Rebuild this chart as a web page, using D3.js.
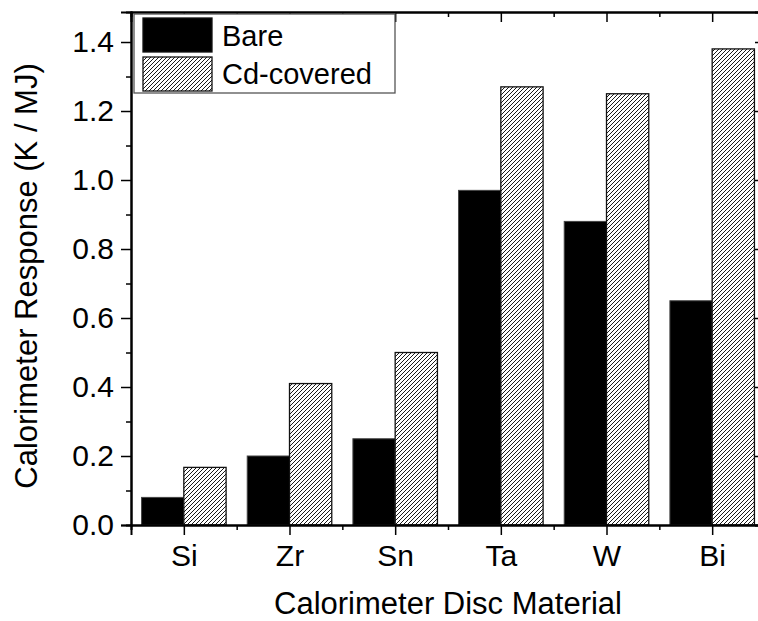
<!DOCTYPE html>
<html>
<head>
<meta charset="utf-8">
<script src="https://cdn.jsdelivr.net/npm/d3@7"></script>
<style>
  body { margin: 0; background: #fff; }
  svg { display: block; font-family: "Liberation Sans", Arial, sans-serif; }
</style>
</head>
<body>
<svg width="758" height="621"></svg>
<script>
const materials = ["Si", "Zr", "Sn", "Ta", "W", "Bi"];
const bareValues = [0.08, 0.20, 0.25, 0.97, 0.88, 0.65];
const cdValues = [0.167, 0.41, 0.50, 1.27, 1.25, 1.38];
const yTickValues = [0, 0.2, 0.4, 0.6, 0.8, 1.0, 1.2, 1.4];
const yMinorValues = [0.1, 0.3, 0.5, 0.7, 0.9, 1.1, 1.3];
const seriesNames = ["Bare", "Cd-covered"];

function drawChart()
{
  const svg = d3.select("svg");

  const xScale = d3.scaleLinear().domain([0.5, 6.5]).range([131, 765]);
  const yScale = d3.scaleLinear().domain([0, 1.487]).range([525, 12]);
  const barWidth = 0.4;

  // hatch for the Cd-covered series
  const defs = svg.append("defs");
  const pattern = defs
    .append("pattern")
    .attr("id", "hatch")
    .attr("patternUnits", "userSpaceOnUse")
    .attr("width", 4)
    .attr("height", 4);
  pattern.append("rect").attr("width", 4).attr("height", 4).attr("fill", "#fff");
  pattern
    .append("path")
    .attr("d", "M-1,1 L1,-1 M0,4 L4,0 M3,5 L5,3")
    .attr("stroke", "#000")
    .attr("stroke-width", 0.9);

  const xMajor = materials.map((m, i) => i + 1);
  const xMinor = materials.slice(0, -1).map((m, i) => i + 1.5);

  // right and top axes (inward ticks), drawn under bars
  const top = svg.append("g").attr("transform", `translate(0, ${ yScale.range()[1] })`);
  top.call(d3.axisTop(xScale).tickValues(xMajor).tickSize(-10).tickFormat(""));
  top.append("g").call(d3.axisTop(xScale).tickValues(xMinor).tickSize(-5).tickFormat(""));

  const right = svg.append("g").attr("transform", `translate(${ xScale.range()[1] }, 0)`);
  right.call(d3.axisRight(yScale).tickValues(yTickValues).tickSize(-10).tickFormat(""));
  right.append("g").call(d3.axisRight(yScale).tickValues(yMinorValues).tickSize(-5).tickFormat(""));

  // bars
  const bars = svg.append("g");
  bars
    .selectAll(".bare")
    .data(bareValues)
    .join("rect")
    .attr("x", (d, i) => xScale(i + 1 - barWidth))
    .attr("y", (d) => yScale(d))
    .attr("width", xScale(barWidth) - xScale(0))
    .attr("height", (d) => yScale(0) - yScale(d))
    .attr("fill", "#000")
    .attr("stroke", "#444")
    .attr("stroke-width", 1);

  bars
    .selectAll(".cd")
    .data(cdValues)
    .join("rect")
    .attr("x", (d, i) => xScale(i + 1))
    .attr("y", (d) => yScale(d))
    .attr("width", xScale(barWidth) - xScale(0))
    .attr("height", (d) => yScale(0) - yScale(d))
    .attr("fill", "url(#hatch)")
    .attr("stroke", "#111")
    .attr("stroke-width", 1.3);

  // bottom axis
  const bottom = svg.append("g").attr("transform", `translate(0, ${ yScale(0) })`);
  bottom.call(
    d3.axisBottom(xScale).tickValues(xMajor).tickSize(10).tickPadding(10)
      .tickFormat((d) => materials[d - 1])
  );
  bottom.append("g").call(d3.axisBottom(xScale).tickValues(xMinor).tickSize(5).tickFormat(""));

  // left axis
  const left = svg.append("g").attr("transform", `translate(${ xScale.range()[0] }, 0)`);
  left.call(
    d3.axisLeft(yScale).tickValues(yTickValues).tickSize(10).tickPadding(7)
      .tickFormat(d3.format(".1f"))
  );
  left.append("g").call(d3.axisLeft(yScale).tickValues(yMinorValues).tickSize(5).tickFormat(""));

  svg.selectAll(".domain").attr("stroke-width", 2).attr("stroke", "#000");
  svg.selectAll(".tick line").attr("stroke-width", 1.5).attr("stroke", "#000");
  svg.selectAll(".tick text").attr("font-size", 30).attr("fill", "#000")
    .attr("font-family", "Liberation Sans, Arial, sans-serif");

  // axis titles
  svg
    .append("text")
    .attr("x", 448)
    .attr("y", 614)
    .attr("text-anchor", "middle")
    .attr("font-size", 31)
    .text("Calorimeter Disc Material");

  svg
    .append("text")
    .attr("transform", "translate(37, 276) rotate(-90)")
    .attr("text-anchor", "middle")
    .attr("font-size", 31)
    .text("Calorimeter Response (K / MJ)");

  // legend
  const legend = svg.append("g");
  legend
    .append("rect")
    .attr("x", 134)
    .attr("y", 14)
    .attr("width", 261)
    .attr("height", 79)
    .attr("fill", "#fff")
    .attr("stroke", "#555")
    .attr("stroke-width", 1.3);

  seriesNames.forEach((name, i) =>
  {
    legend
      .append("rect")
      .attr("x", 143)
      .attr("y", 18 + i * 39)
      .attr("width", 69)
      .attr("height", 34)
      .attr("fill", i === 0 ? "#000" : "url(#hatch)")
      .attr("stroke", "#111")
      .attr("stroke-width", 1.3);
    legend
      .append("text")
      .attr("x", 222)
      .attr("y", 46 + i * 38)
      .attr("font-size", 29)
      .text(name);
  });
}

drawChart();
</script>
</body>
</html>
